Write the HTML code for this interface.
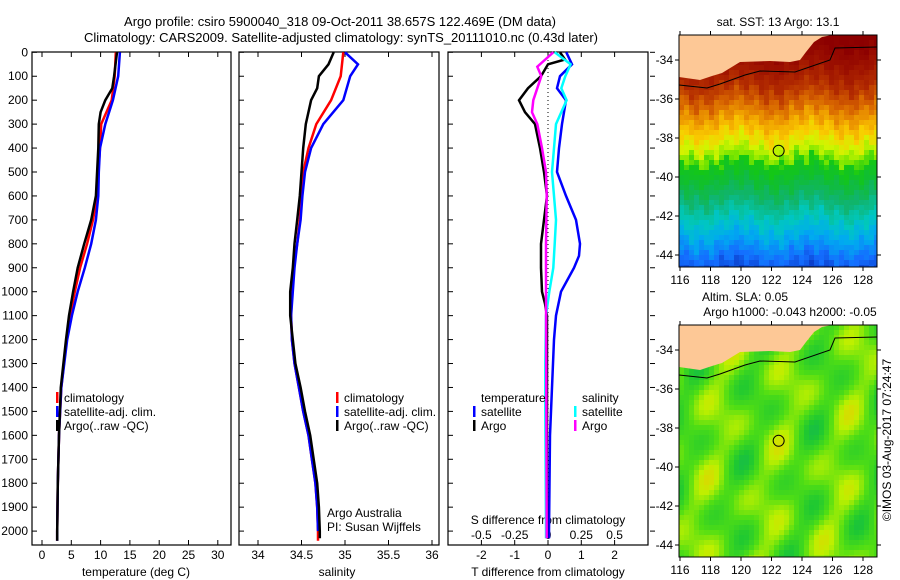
<!DOCTYPE html>
<html><head><meta charset="utf-8"><style>
body{margin:0;background:#fff}
svg{display:block;font-family:"Liberation Sans",sans-serif}
text{fill:#000}
</style></head><body>
<svg id="c" width="900" height="580" viewBox="0 0 900 580" xmlns="http://www.w3.org/2000/svg">
<text x="340" y="26" font-size="13" text-anchor="middle">Argo profile: csiro 5900040_318 09-Oct-2011 38.657S 122.469E (DM data)</text>
<text x="341" y="42" font-size="13" text-anchor="middle">Climatology: CARS2009. Satellite-adjusted climatology: synTS_20111010.nc (0.43d later)</text>
<g id="g"></g>
</svg>
<script>
// ---- data ----
const depthTick=[0,100,200,300,400,500,600,700,800,900,1000,1100,1200,1300,1400,1500,1600,1700,1800,1900,2000];
const tTicks=[0,5,10,15,20,25,30];
const sTicks=[34,34.5,35,35.5,36];
const tdTicks=[-2,-1,0,1,2];
const sdTicks=[-0.5,-0.25,0,0.25,0.5];
const sdLabels=["-0.5","-0.25","0","0.25","0.5"];
const lonTicks=[116,118,120,122,124,126,128];
const latTicks=[-34,-36,-38,-40,-42,-44];

const tDepA=[0,100,150,200,250,300,400,500,600,700,800,900,1000,1100,1200,1400,1600,1800,2000,2040];
const tArgo=[12.8,12.3,12.0,10.8,10.0,9.7,9.6,9.4,9.2,8.4,7.2,6.1,5.3,4.6,4.1,3.2,2.9,2.7,2.6,2.6];
const tDepC=[0,100,200,300,400,500,600,700,800,900,1000,1100,1200,1400,1600,1800,2000,2040];
const tClim=[12.6,12.4,11.9,10.1,9.9,9.6,9.4,8.7,7.7,6.5,5.6,4.8,4.2,3.3,2.9,2.7,2.6,2.6];
const tSat=[13.3,13.0,12.1,10.8,9.9,9.7,9.6,9.2,8.4,7.3,6.1,5.1,4.3,3.3,2.9,2.7,2.6,2.6];

const sDepA=[0,50,100,150,200,300,400,500,600,700,800,900,1000,1100,1200,1300,1400,1500,1600,1700,1800,1900,2000,2030];
const sArgo=[34.87,34.81,34.70,34.68,34.61,34.55,34.52,34.50,34.48,34.45,34.42,34.40,34.37,34.37,34.40,34.43,34.49,34.54,34.60,34.64,34.68,34.70,34.71,34.71];
const sDepC=[0,100,200,300,400,500,600,700,800,900,1000,1100,1200,1300,1400,1500,1600,1700,1800,1900,2000,2040];
const sClim=[34.98,34.95,34.84,34.67,34.58,34.52,34.50,34.48,34.45,34.41,34.39,34.38,34.39,34.42,34.47,34.52,34.58,34.62,34.66,34.68,34.69,34.69];
const sDepS=[0,50,100,200,300,400,500,600,700,800,900,1000,1100,1200,1300,1400,1500,1600,1700,1800,1900,2000];
const sSat=[35.0,35.15,35.06,34.98,34.75,34.61,34.54,34.51,34.49,34.45,34.42,34.40,34.38,34.39,34.42,34.47,34.52,34.58,34.62,34.66,34.68,34.69];

const dDepTS=[0,50,100,150,200,300,400,500,600,700,800,850,900,1000,1100,1200,1400,1600,2000,2030];
const dTSat=[0.55,0.72,0.36,0.27,0.54,0.42,0.33,0.27,0.54,0.84,0.96,0.93,0.78,0.39,0.24,0.18,0.12,0.06,0.03,0.03];
const dDepTA=[0,30,50,100,150,200,250,300,400,500,600,700,800,900,1000,1050,1100,1500,2000,2030];
const dTArgo=[0.36,0.51,0,-0.21,-0.6,-0.87,-0.69,-0.39,-0.24,-0.12,-0.03,-0.12,-0.21,-0.21,-0.18,-0.09,-0.03,-0.03,-0.03,-0.03];
const dDepSS=[0,50,100,150,200,300,400,500,600,700,800,900,1000,1100,1300,1500,2000,2030];
const dSSat=[0.05,0.17,0.13,0.10,0.14,0.06,0.045,0.03,0.045,0.06,0.05,0.04,0.01,-0.015,-0.02,-0.02,-0.015,-0.015];
const dDepSA=[0,30,60,100,150,200,250,300,400,500,600,800,1000,2000,2030];
const dSArgo=[0.04,-0.02,-0.08,-0.05,-0.08,-0.11,-0.12,-0.08,-0.045,-0.015,-0.01,-0.015,-0.015,-0.01,-0.01];

// ---- helpers ----
const NS="http://www.w3.org/2000/svg";
const G=document.getElementById('g');
function mk(tag,at,parent){const e=document.createElementNS(NS,tag);for(const k in at)e.setAttribute(k,at[k]);(parent||G).appendChild(e);return e;}
function txt(x,y,s,anchor,size){const e=mk('text',{x:x,y:y,'font-size':size||12,'text-anchor':anchor||'start'});e.textContent=s;return e;}
const yD=d=>52.3+d*0.2394;

const P1={l:32,r:231,t:52,b:545}, P2={l:239,r:439,t:52,b:545}, P3={l:448,r:648,t:52,b:545};
const xT=v=>42+v*5.86;
const xS=v=>258+(v-34)*87;
const xTD=v=>548+v*33.3;
const xSD=v=>548+v*133.2;

function frame(P,name){
  const r=mk('rect',{x:P.l,y:P.t,width:P.r-P.l,height:P.b-P.t,fill:'#fff',stroke:'#000','stroke-width':1.2});
  
  
  depthTick.forEach(d=>{mk('line',{x1:P.l,x2:P.l+5,y1:yD(d),y2:yD(d),stroke:'#000'});});
}
function line(xs,ds,xf,color,name,w){
  const pts=xs.map((v,i)=>xf(v).toFixed(1)+','+yD(ds[i]).toFixed(1)).join(' ');
  const p=mk('polyline',{points:pts,fill:'none',stroke:color,'stroke-width':w||2.5,'stroke-linejoin':'miter'});
  
  
}
frame(P1,'temperature-panel');frame(P2,'salinity-panel');frame(P3,'difference-panel');
depthTick.forEach(d=>{const t=txt(28,yD(d)+4,String(d),'end',12);});
depthTick.forEach(d=>{mk('line',{x1:650,x2:655,y1:yD(d),y2:yD(d),stroke:'#000'});});

tTicks.forEach(v=>{mk('line',{x1:xT(v),x2:xT(v),y1:545,y2:540,stroke:'#000'});mk('line',{x1:xT(v),x2:xT(v),y1:52,y2:57,stroke:'#000'});const t=txt(xT(v),559,String(v),'middle');});
sTicks.forEach(v=>{mk('line',{x1:xS(v),x2:xS(v),y1:545,y2:540,stroke:'#000'});mk('line',{x1:xS(v),x2:xS(v),y1:52,y2:57,stroke:'#000'});const t=txt(xS(v),559,String(v),'middle');});
tdTicks.forEach(v=>{mk('line',{x1:xTD(v),x2:xTD(v),y1:545,y2:540,stroke:'#000'});mk('line',{x1:xTD(v),x2:xTD(v),y1:52,y2:57,stroke:'#000'});const t=txt(xTD(v),559,String(v),'middle');});
sdTicks.forEach((v,i)=>{const t=txt(xSD(v),539,sdLabels[i],'middle');});

let e;
e=txt(136,576,'temperature (deg C)','middle');
e=txt(337,576,'salinity','middle');
e=txt(548,576,'T difference from climatology','middle');
e=txt(548,524,'S difference from climatology','middle');

e=mk('line',{x1:548,x2:548,y1:52,y2:545,stroke:'#000','stroke-dasharray':'1,3'});



line(tClim,tDepC,xT,'#f00','temp-climatology-line');
line(tSat,tDepC,xT,'#00f','temp-satellite-line');
line(tArgo,tDepA,xT,'#000','temp-argo-line');
line(sClim,sDepC,xS,'#f00','sal-climatology-line');
line(sSat,sDepS,xS,'#00f','sal-satellite-line');
line(sArgo,sDepA,xS,'#000','sal-argo-line');
line(dTSat,dDepTS,xTD,'#00f','tdiff-satellite-line');
line(dTArgo,dDepTA,xTD,'#000','tdiff-argo-line');
line(dSSat,dDepSS,xSD,'#0ff','sdiff-satellite-line');
line(dSArgo,dDepSA,xSD,'#f0f','sdiff-argo-line');

function leg(x,y,c,s,name){mk('rect',{x:x,y:y-10,width:2.5,height:11,fill:c});const t=txt(x+8,y,s,'start');}
leg(56,402,'#f00','climatology','legend-climatology');
leg(56,416,'#00f','satellite-adj. clim.','legend-satellite-adj');
leg(56,430,'#000','Argo(..raw -QC)','legend-argo');
leg(336,402,'#f00','climatology','legend-climatology-2');
leg(336,416,'#00f','satellite-adj. clim.','legend-satellite-adj-2');
leg(336,430,'#000','Argo(..raw -QC)','legend-argo-2');
e=txt(481,402,'temperature');
e=txt(582,402,'salinity');
leg(473,416,'#00f','satellite','legend-t-satellite');
leg(473,430,'#000','Argo','legend-t-argo');
leg(574,416,'#0ff','satellite','legend-s-satellite');
leg(574,430,'#f0f','Argo','legend-s-argo');
e=txt(327,517,'Argo Australia');
e=txt(327,531,'PI: Susan Wijffels');

// ---- maps ----
const lonX=v=>680+(v-116)*15.25;
function latY(top){return v=>top+25+(-34-v)*19.5;}
const coast=[[679,77],[700,80],[712,76],[722,73],[740,62],[770,61],[790,62],[800,60],[806,52],[814,42],[822,37],[832,35],[679,35]];
const shelf=[[679,85],[707,88],[720,84],[745,75],[760,71],[795,72],[830,60],[835,48],[877,47]];
function interp(s,v){
  if(v<=s[0][0])return 'rgb('+s[0][1].join(',')+')';
  for(let i=0;i<s.length-1;i++){if(v<=s[i+1][0]){const f=(v-s[i][0])/(s[i+1][0]-s[i][0]);const a=s[i][1],b=s[i+1][1];return 'rgb('+a.map((x,k)=>Math.round(x+(b[k]-x)*f)).join(',')+')';}}
  return 'rgb('+s[s.length-1][1].join(',')+')';
}
const sstStops=[[-45,[10,60,200]],[-44,[20,110,255]],[-43,[0,170,240]],[-42,[0,200,190]],[-41,[16,180,110]],[-40,[16,190,50]],[-39.2,[20,200,20]],[-38.9,[120,230,0]],[-38.3,[210,245,0]],[-37.6,[250,205,0]],[-36.9,[240,160,0]],[-36.1,[215,100,0]],[-35.2,[180,45,0]],[-34,[155,15,0]],[-33,[140,0,0]]];
const slaStops=[[-1,[10,170,110]],[-0.5,[30,200,50]],[0,[80,222,20]],[0.5,[190,240,0]],[1,[240,200,0]]];
function map(top,kind){
  const g=mk('g',{});
  
  
  const yL=latY(top);
  const cs=5;
  for(let py=top;py<top+232;py+=cs){for(let px=679;px<877;px+=cs){
    const lon=116+(px-680)/15.25, lat=-34-(py-top-25)/19.5;
    let col;
    if(kind==='sst'){const n=0.3*Math.sin(px*0.37+py*0.11)*Math.cos(py*0.29-px*0.05)+0.2*Math.sin(px*0.9+py*1.3)+0.25*Math.sin(lon*1.3);col=interp(sstStops,lat+n);}
    else{const v=0.45*Math.sin(lon*1.1+lat*0.7+1)*Math.cos(lat*1.0-lon*0.35)+0.25*Math.sin(lon*1.9-lat*1.5)+0.05;col=interp(slaStops,v);}
    mk('rect',{x:px,y:py,width:Math.min(cs,877-px),height:Math.min(cs,top+232-py),fill:col},g);
  }}
  mk('polygon',{points:coast.map(p=>p[0]+','+(p[1]-35+top)).join(' '),fill:'#fdc896'},g);
  mk('polyline',{points:shelf.map(p=>p[0]+','+(p[1]-35+top)).join(' '),fill:'none',stroke:'#000','stroke-width':1},g);
  mk('rect',{x:679,y:top,width:198,height:232,fill:'none',stroke:'#000','stroke-width':1},g);
  const c=mk('circle',{cx:lonX(122.469),cy:yL(-38.657),r:5.5,fill:'none',stroke:'#000','stroke-width':1},g);
  
  
  lonTicks.forEach(v=>{mk('line',{x1:lonX(v),x2:lonX(v),y1:top,y2:top-4,stroke:'#000'},g);mk('line',{x1:lonX(v),x2:lonX(v),y1:top+232,y2:top+236,stroke:'#000'},g);
    const t=txt(lonX(v),top+249,String(v),'middle',12);});
  latTicks.forEach(v=>{mk('line',{x1:679,x2:675,y1:yL(v),y2:yL(v),stroke:'#000'},g);mk('line',{x1:877,x2:881,y1:yL(v),y2:yL(v),stroke:'#000'},g);
    const t=txt(673,yL(v)+4,String(v),'end',12);});
}
map(35,'sst');map(325,'sla');
e=txt(778,26,'sat. SST: 13 Argo: 13.1','middle');
e=txt(745,301,'Altim. SLA: 0.05','middle');
e=txt(790,316,'Argo h1000: -0.043 h2000: -0.05','middle');
e=txt(0,0,'©IMOS 03-Aug-2017 07:24:47','middle');e.setAttribute('transform','translate(891,440) rotate(-90)');


</script>
</body></html>
